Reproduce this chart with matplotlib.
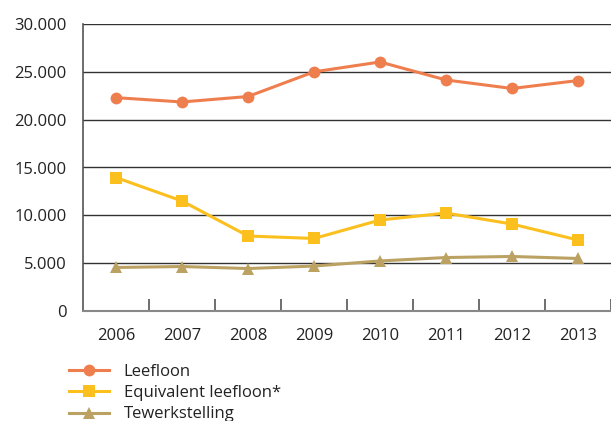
import matplotlib
matplotlib.use("Agg")
import matplotlib.pyplot as plt
from matplotlib.ticker import FuncFormatter

years = ["2006", "2007", "2008", "2009", "2010", "2011", "2012", "2013"]
leefloon = [22300, 21850, 22420, 25000, 26030, 24150, 23260, 24090]
equivalent = [13950, 11500, 7840, 7580, 9510, 10240, 9090, 7420]
tewerkstelling = [4550, 4650, 4440, 4700, 5230, 5590, 5700, 5490]

series_names = ["Leefloon", "Equivalent leefloon*", "Tewerkstelling"]
colors = ["#EF7E4E", "#FBC01E", "#BBA263"]
markers = ["o", "s", "^"]

plt.rcParams["font.family"] = ["Open Sans", "DejaVu Sans"]

fig = plt.figure(figsize=(6.11, 4.21), dpi=100)
ax = fig.add_axes([83 / 611, 1 - 311 / 421, 528 / 611, 287 / 421])

x = list(range(len(years)))
for vals, name, c, m in zip([leefloon, equivalent, tewerkstelling], series_names, colors, markers):
    ax.plot(x, vals, color=c, marker=m, markersize=8.5, linewidth=2.2, label=name,
            markeredgewidth=0, zorder=3)

ax.set_xlim(-0.5, len(years) - 0.5)
ax.set_ylim(0, 30000)
ax.set_yticks(range(0, 30001, 5000))
ax.yaxis.set_major_formatter(FuncFormatter(lambda v, p: f"{int(v):,}".replace(",", ".")))
ax.grid(axis="y", color="#333333", linewidth=1.0, zorder=0)
ax.set_axisbelow(True)

# category boundaries as inward ticks
ax.set_xticks([i + 0.5 for i in range(len(years))])
ax.set_xticklabels([])
ax.set_xticks(x, minor=True)
ax.set_xticklabels(years, minor=True)
ax.tick_params(axis="x", which="major", direction="in", length=9, width=1.2, color="#555555")
ax.tick_params(axis="x", which="minor", length=0, pad=12, labelsize=12, labelcolor="#222222")
ax.tick_params(axis="y", length=0, pad=12, labelsize=12, labelcolor="#222222")

for s in ["top", "right"]:
    ax.spines[s].set_visible(False)
ax.spines["left"].set_color("#555555")
ax.spines["bottom"].set_color("#888888")
ax.spines["left"].set_linewidth(1.2)
ax.spines["bottom"].set_linewidth(1.5)

leg = fig.legend(loc="upper left", bbox_to_anchor=(62 / 611, 1 - 357 / 421), frameon=False,
                 fontsize=12, handlelength=2.4, labelspacing=0.32, handletextpad=0.9,
                 borderaxespad=0)
for t in leg.get_texts():
    t.set_color("#222222")

fig.savefig("out.png", dpi=100)
